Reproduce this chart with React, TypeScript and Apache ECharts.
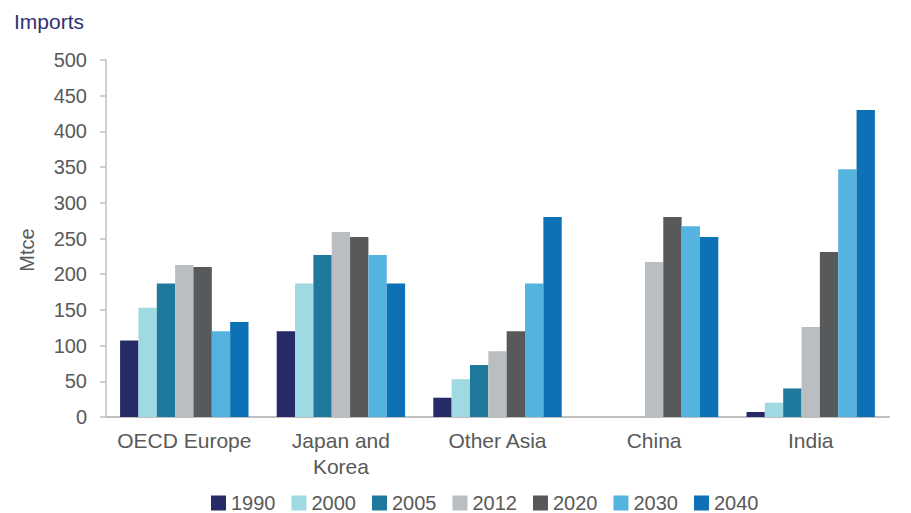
import React, { useEffect, useRef } from "react";
import * as echarts from "echarts";

const categories = ["OECD Europe", "Japan and\nKorea", "Other Asia", "China", "India"];
const years = ["1990", "2000", "2005", "2012", "2020", "2030", "2040"];
const colors = ["#262A66", "#9FD9E1", "#1E799C", "#BBBEC0", "#58595B", "#55B3E0", "#0D71B5"];
const v1990 = [107, 120, 27, 0, 7];
const v2000 = [153, 187, 53, 0, 20];
const v2005 = [187, 227, 73, 0, 40];
const v2012 = [213, 259, 92, 217, 126];
const v2020 = [210, 252, 120, 280, 231];
const v2030 = [120, 227, 187, 267, 347];
const v2040 = [133, 187, 280, 252, 430];
const seriesValues = [v1990, v2000, v2005, v2012, v2020, v2030, v2040];

const FONT = "Liberation Sans, Arial, sans-serif";

export default function App() {
  const ref = useRef<HTMLDivElement>(null);
  useEffect(() => {
    document.body.style.margin = "0";
    if (!ref.current) return;
    const chart = echarts.init(ref.current, null, { renderer: "svg" });
    chart.setOption({
      animation: false,
      textStyle: { fontFamily: FONT },
      graphic: [
        {
          type: "text",
          left: 14,
          top: 11,
          style: { text: "Imports", fontSize: 21, fill: "#2E3272", fontFamily: FONT },
        },
        {
          type: "text",
          x: 27,
          y: 250,
          rotation: Math.PI / 2,
          style: {
            text: "Mtce",
            fontSize: 20,
            fill: "#595959",
            fontFamily: FONT,
            align: "center",
            verticalAlign: "middle",
          },
        },
      ],
      legend: {
        data: years,
        left: 206,
        top: 488,
        itemWidth: 15,
        itemHeight: 15,
        itemGap: 16,
        icon: "rect",
        textStyle: { fontSize: 20, lineHeight: 20, color: "#595959", fontFamily: FONT },
      },
      grid: { left: 106, right: 22, top: 60, bottom: 96, containLabel: false },
      xAxis: {
        type: "category",
        data: categories,
        axisLine: { lineStyle: { color: "#BFBFBF", width: 2 } },
        axisTick: { show: false },
        axisLabel: {
          interval: 0,
          fontSize: 21,
          color: "#595959",
          margin: 10,
          lineHeight: 26,
          fontFamily: FONT,
        },
      },
      yAxis: {
        type: "value",
        min: 0,
        max: 500,
        interval: 50,
        axisLine: { show: true, lineStyle: { color: "#BFBFBF", width: 1.5 } },
        axisTick: { show: true, length: 6, lineStyle: { color: "#BFBFBF", width: 1.5 } },
        splitLine: { show: false },
        axisLabel: { fontSize: 20, color: "#595959", margin: 19, fontFamily: FONT },
      },
      series: years.map((y, i) => ({
        name: y,
        type: "bar",
        data: seriesValues[i],
        barGap: "0%",
        barCategoryGap: "18%",
        itemStyle: { color: colors[i] },
      })),
    });
    return () => chart.dispose();
  }, []);
  return <div ref={ref} style={{ width: 911, height: 513 }} />;
}
